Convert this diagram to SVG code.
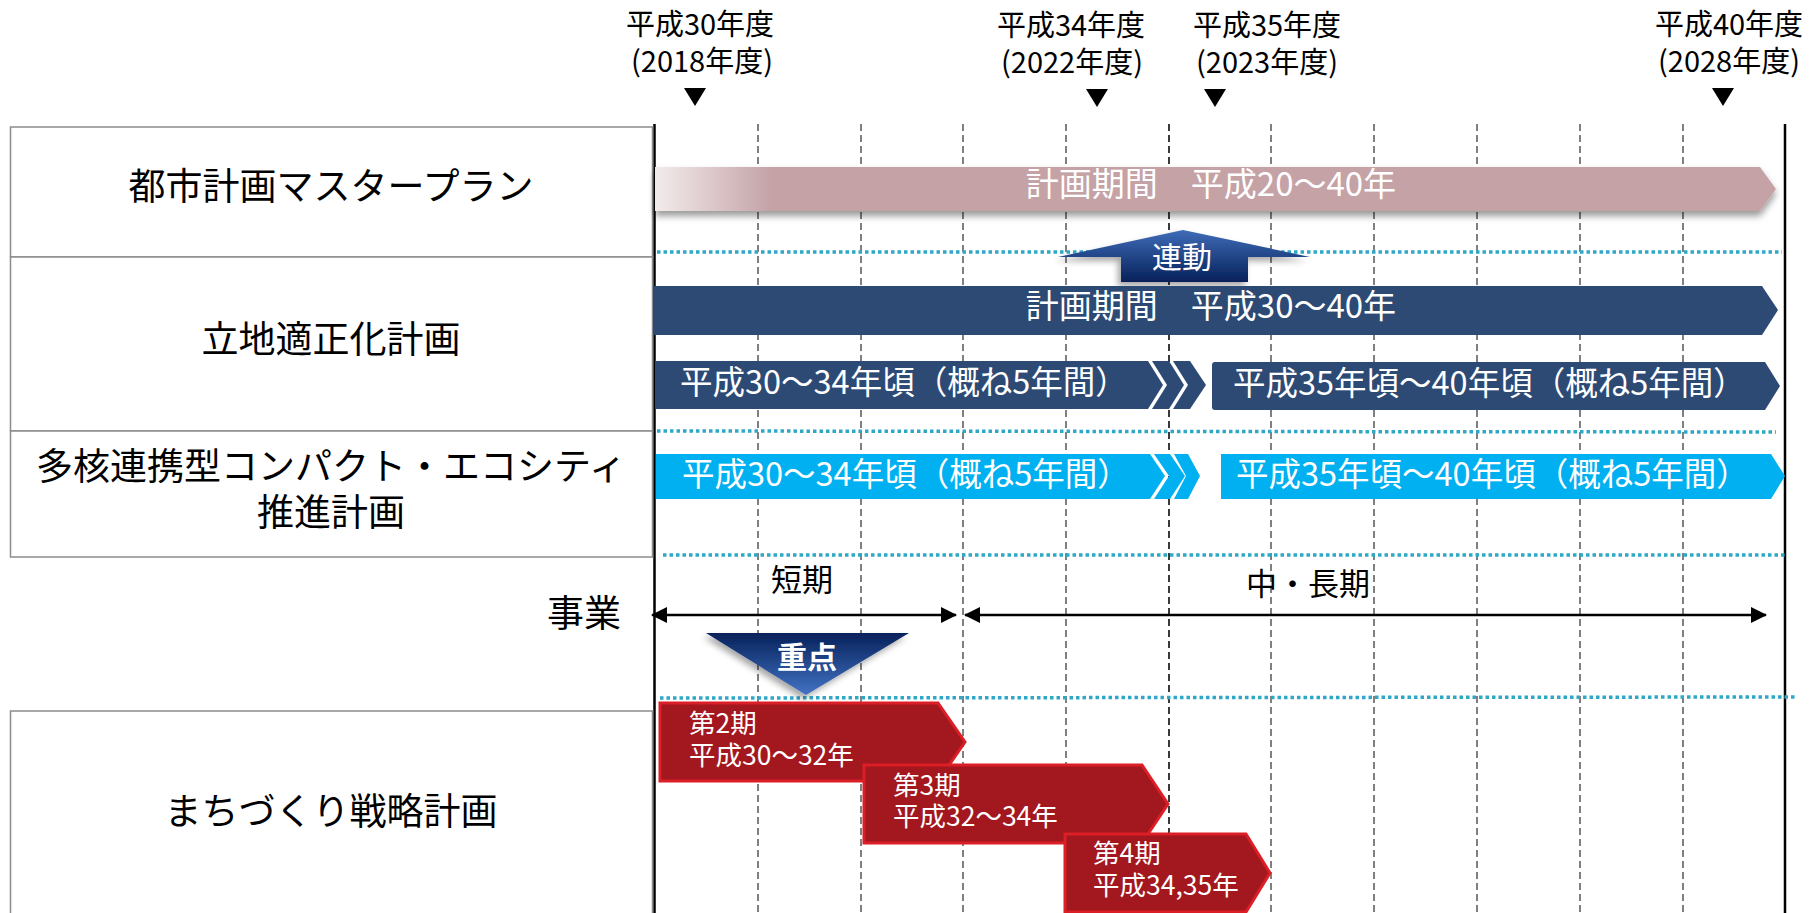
<svg xmlns="http://www.w3.org/2000/svg" width="1810" height="913" viewBox="0 0 1810 913">
<style>
.t{font-family:"Noto Sans CJK JP","Noto Sans CJK SC",sans-serif;}
.hd{font-size:29px;fill:#000;text-anchor:middle;}
.lb{font-size:37px;fill:#000;text-anchor:middle;}
.bw{font-size:33px;fill:#fff;text-anchor:middle;}
.sw{font-size:32.5px;fill:#fff;}
.rw{font-size:26.5px;fill:#fff;}
.box{fill:#fff;stroke:#8c8c8c;stroke-width:1.5;}
.dash{stroke:#808080;stroke-width:2;stroke-dasharray:7 4;fill:none;}
.dot{stroke:#2fa8c6;stroke-width:3.5;stroke-dasharray:3.5 3;fill:none;}
.navy{fill:#2d4a75;}
.cyan{fill:#00b0f0;}
.red{fill:#a3171f;stroke:#dc1f27;stroke-width:3;stroke-linejoin:miter;}
.ax{stroke:#000;stroke-width:2.5;fill:none;}
</style>
<defs>
<linearGradient id="pinkFade" gradientUnits="userSpaceOnUse" x1="655" y1="0" x2="772" y2="0">
<stop offset="0" stop-color="#f3ecec"/>
<stop offset="1" stop-color="#c4a2a6"/>
</linearGradient>
<linearGradient id="upGrad" x1="0" y1="0" x2="0" y2="1">
<stop offset="0" stop-color="#3f6cb8"/>
<stop offset="1" stop-color="#06215a"/>
</linearGradient>
<linearGradient id="downGrad" x1="0" y1="0" x2="0" y2="1">
<stop offset="0" stop-color="#06215a"/>
<stop offset="1" stop-color="#4373c4"/>
</linearGradient>
<filter id="sh" x="-10%" y="-30%" width="120%" height="180%">
<feDropShadow dx="0" dy="5" stdDeviation="3.5" flood-color="#000" flood-opacity="0.4"/>
</filter>
<filter id="sh2" x="-20%" y="-30%" width="140%" height="180%">
<feDropShadow dx="-3" dy="4" stdDeviation="3" flood-color="#000" flood-opacity="0.35"/>
</filter>
<marker id="ah" viewBox="0 0 16 16" refX="15" refY="8" markerWidth="16" markerHeight="16" markerUnits="userSpaceOnUse" orient="auto-start-reverse">
<path d="M0,0 L16,8 L0,16 z" fill="#000"/>
</marker>
</defs>

<!-- grid -->
<g id="grid">
<line class="dash" x1="758" y1="124" x2="758" y2="913"/>
<line class="dash" x1="861" y1="124" x2="861" y2="913"/>
<line class="dash" x1="963" y1="124" x2="963" y2="913"/>
<line class="dash" x1="1066" y1="124" x2="1066" y2="913"/>
<line class="dash" x1="1169" y1="124" x2="1169" y2="913" style="stroke:#3a3a3a"/>
<line class="dash" x1="1271" y1="124" x2="1271" y2="913"/>
<line class="dash" x1="1374" y1="124" x2="1374" y2="913"/>
<line class="dash" x1="1477" y1="124" x2="1477" y2="913"/>
<line class="dash" x1="1580" y1="124" x2="1580" y2="913"/>
<line class="dash" x1="1683" y1="124" x2="1683" y2="913"/>
<line x1="654.5" y1="124" x2="654.5" y2="913" stroke="#000" stroke-width="2.5"/>
<line x1="1785" y1="124" x2="1785" y2="913" stroke="#000" stroke-width="2.5"/>
<line class="dot" x1="657" y1="252" x2="1782" y2="252"/>
<line class="dot" x1="657" y1="431" x2="1776" y2="432"/>
<line class="dot" x1="663" y1="555" x2="1786" y2="555"/>
<line class="dot" x1="660" y1="698" x2="1795" y2="697"/>
</g>

<!-- year headers -->
<g id="years">
<text class="t hd" x="700" y="35">平成30年度</text>
<text class="t hd" x="702" y="72">(2018年度)</text>
<polygon points="684,88 706,88 695,106" fill="#000"/>
<text class="t hd" x="1071" y="36">平成34年度</text>
<text class="t hd" x="1072" y="73">(2022年度)</text>
<polygon points="1086,89 1108,89 1097,107" fill="#000"/>
<text class="t hd" x="1267" y="36">平成35年度</text>
<text class="t hd" x="1267" y="73">(2023年度)</text>
<polygon points="1204,89 1226,89 1215,107" fill="#000"/>
<text class="t hd" x="1729" y="35">平成40年度</text>
<text class="t hd" x="1729" y="72">(2028年度)</text>
<polygon points="1712,88 1734,88 1723,106" fill="#000"/>
</g>

<!-- left label boxes -->
<g id="box-masterplan">
<rect class="box" x="10.5" y="127" width="642" height="130"/>
<text class="t lb" x="331" y="200">都市計画マスタープラン</text>
</g>
<g id="box-ricchi">
<rect class="box" x="10.5" y="257" width="642" height="174"/>
<text class="t lb" x="331" y="353">立地適正化計画</text>
</g>
<g id="box-ecocity">
<rect class="box" x="10.5" y="431" width="642" height="126"/>
<text class="t lb" x="331" y="480">多核連携型コンパクト・エコシティ</text>
<text class="t lb" x="331" y="526">推進計画</text>
</g>
<g id="label-jigyo">
<text class="t lb" x="584" y="627">事業</text>
</g>
<g id="box-machizukuri">
<rect class="box" x="10.5" y="711" width="642" height="210"/>
<text class="t lb" x="331" y="825">まちづくり戦略計画</text>
</g>

<!-- master plan bar -->
<g id="bar-masterplan">
<polygon points="655,167 1760,167 1776,189 1760,211 655,211" fill="url(#pinkFade)" filter="url(#sh)"/>
<text class="t bw" x="1211" y="196">計画期間　平成20～40年</text>
</g>

<!-- rendo arrow -->
<g id="arrow-rendo">
<path d="M1183,230 Q1250,244 1310,257 L1248,257 L1248,282 L1121,282 L1121,257 L1058,257 Q1118,244 1183,230 Z" fill="url(#upGrad)" filter="url(#sh2)"/>
<text class="t" x="1182" y="268" font-size="30" fill="#fff" text-anchor="middle">連動</text>
</g>

<!-- ricchi bars -->
<g id="bar-ricchi-all">
<polygon class="navy" points="653,286 1762,286 1778,310 1762,335 653,335"/>
<text class="t bw" x="1211" y="318">計画期間　平成30～40年</text>
</g>
<g id="bar-ricchi-1">
<polygon class="navy" points="655,361 1148,361 1163,385 1148,409 655,409"/>
<polygon class="navy" points="1152,361 1169,361 1184,385 1169,409 1152,409 1167,385"/>
<polygon class="navy" points="1173,361 1190,361 1206,385 1190,409 1173,409 1188,385"/>
<text class="t sw" x="680" y="394">平成30～34年頃（概ね5年間）</text>
</g>
<g id="bar-ricchi-2">
<path class="navy" d="M1215,362 L1765,362 L1780,386 L1765,410 L1215,410 Q1212,410 1212,407 L1212,365 Q1212,362 1215,362 Z"/>
<text class="t sw" x="1233" y="395">平成35年頃～40年頃（概ね5年間）</text>
</g>

<!-- ecocity bars -->
<g id="bar-eco-1">
<polygon class="cyan" points="656,454 1150,454 1165,476 1150,499 656,499"/>
<polygon class="cyan" points="1154,454 1170,454 1185,476 1170,499 1154,499 1169,476"/>
<polygon class="cyan" points="1174,454 1188,454 1200,476 1188,499 1174,499 1186,476"/>
<text class="t sw" x="682" y="486">平成30～34年頃（概ね5年間）</text>
</g>
<g id="bar-eco-2">
<polygon class="cyan" points="1221,454 1771,454 1785,476 1771,499 1221,499"/>
<text class="t sw" x="1236" y="486">平成35年頃～40年頃（概ね5年間）</text>
</g>

<!-- period arrows -->
<g id="connectors">
<line class="ax" x1="652" y1="615" x2="956" y2="615" marker-start="url(#ah)" marker-end="url(#ah)"/>
<line class="ax" x1="965" y1="615" x2="1766" y2="615" marker-start="url(#ah)" marker-end="url(#ah)"/>
</g>
<g id="label-short">
<text class="t" x="802" y="591" font-size="31" text-anchor="middle" fill="#000">短期</text>
</g>
<g id="label-long">
<text class="t" x="1308" y="595" font-size="31" text-anchor="middle" fill="#000">中・長期</text>
</g>

<!-- juten -->
<g id="juten">
<polygon points="706,633 909,633 806,695" fill="url(#downGrad)" filter="url(#sh2)"/>
<text class="t" x="807" y="668" font-size="30" font-weight="bold" fill="#fff" text-anchor="middle">重点</text>
</g>

<!-- machizukuri phases -->
<g id="phase-2">
<polygon class="red" points="660,703 938,703 965,742 938,781 660,781"/>
<text class="t rw" x="689" y="733">第2期</text>
<text class="t rw" x="689" y="765">平成30～32年</text>
</g>
<g id="phase-3">
<polygon class="red" points="864,765 1142,765 1168,804 1142,843 864,843"/>
<text class="t rw" x="893" y="795">第3期</text>
<text class="t rw" x="893" y="826">平成32～34年</text>
</g>
<g id="phase-4">
<polygon class="red" points="1065,834 1246,834 1270,873 1246,912 1065,912"/>
<text class="t rw" x="1093" y="863">第4期</text>
<text class="t rw" x="1093" y="895">平成34,35年</text>
</g>
</svg>
